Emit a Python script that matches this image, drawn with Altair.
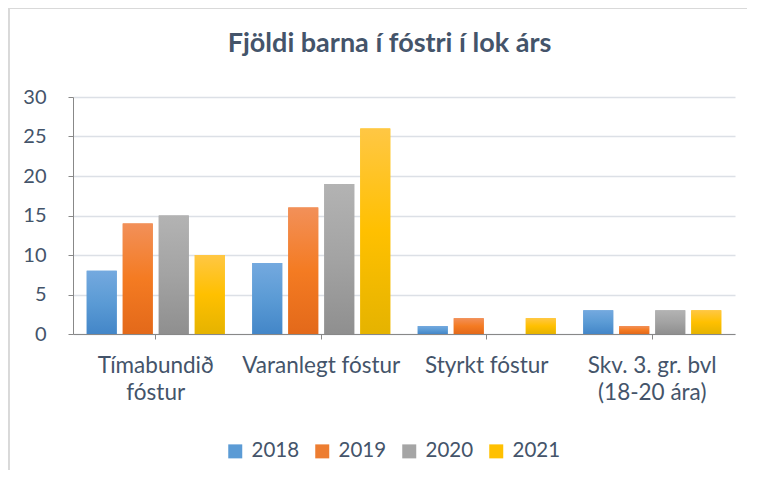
import altair as alt
import pandas as pd

categories = ["Tímabundið fóstur", "Varanlegt fóstur", "Styrkt fóstur", "Skv. 3. gr. bvl (18-20 ára)"]
label_lines = {
    "Tímabundið fóstur": ["Tímabundið", "fóstur"],
    "Varanlegt fóstur": ["Varanlegt fóstur"],
    "Styrkt fóstur": ["Styrkt fóstur"],
    "Skv. 3. gr. bvl (18-20 ára)": ["Skv. 3. gr. bvl", "(18-20 ára)"],
}
years = ["2018", "2019", "2020", "2021"]
v2018 = [8, 9, 1, 3]
v2019 = [14, 16, 2, 1]
v2020 = [15, 19, 0, 3]
v2021 = [10, 26, 2, 3]
series = {"2018": v2018, "2019": v2019, "2020": v2020, "2021": v2021}

solid = ["#5B9BD5", "#ED7D31", "#A5A5A5", "#FFC000"]
grad_stops = {
    "2018": ["#74A9DF", "#5B9BD5", "#4386C8"],
    "2019": ["#F29059", "#F47B22", "#E3691A"],
    "2020": ["#B3B3B3", "#A3A3A3", "#8F8F8F"],
    "2021": ["#FFC744", "#FFC000", "#E5B300"],
}

rows = []
for y in years:
    for c, v in zip(categories, series[y]):
        rows.append({"cat": c, "year": y, "value": v})
df = pd.DataFrame(rows)

FONT = "Lato"
TXT = "#44546A"

expr_parts = []
for c, lines in label_lines.items():
    arr = "[" + ",".join("'" + s + "'" for s in lines) + "]"
    expr_parts.append(f"datum.value == '{c}' ? {arr}")
label_expr = " : ".join(expr_parts) + " : datum.label"

base = alt.Chart(df).encode(
    x=alt.X(
        "cat:N",
        sort=categories,
        scale=alt.Scale(domain=categories, paddingInner=0.166, paddingOuter=0.083),
        axis=alt.Axis(
            title=None, labelAngle=0, labelExpr=label_expr, labelFontSize=22.5,
            labelPadding=15, labelLineHeight=27, labelLimit=400, grid=False,
            labelColor=TXT, labelFont=FONT,
        ),
    ),
    xOffset=alt.XOffset("year:N", scale=alt.Scale(domain=years, paddingInner=0.167, paddingOuter=0)),
    y=alt.Y(
        "value:Q",
        scale=alt.Scale(domain=[0, 30]),
        axis=alt.Axis(
            title=None, values=[0, 5, 10, 15, 20, 25, 30], labelFontSize=20,
            labelPadding=22, labelColor=TXT, labelFont=FONT,
            gridColor="#DCE0E6", gridWidth=1.5,
        ),
    ),
)

legend_layer = base.mark_bar().encode(
    color=alt.Color(
        "year:N",
        scale=alt.Scale(domain=years, range=solid),
        legend=alt.Legend(
            title=None, orient="none", direction="horizontal", legendX=152, legendY=344,
            symbolType="square", symbolSize=196, symbolStrokeWidth=0,
            labelFontSize=20.5, labelFont=FONT, labelColor=TXT, labelOffset=6,
            columnPadding=12, padding=0,
        ),
    )
)

layers = [legend_layer]
for y in years:
    s = grad_stops[y]
    g = alt.Gradient(
        gradient="linear",
        stops=[
            alt.GradientStop(color=s[0], offset=0),
            alt.GradientStop(color=s[1], offset=0.5),
            alt.GradientStop(color=s[2], offset=1),
        ],
        x1=0, x2=0, y1=0, y2=1,
    )
    layers.append(base.transform_filter(alt.datum.year == y).mark_bar(fill=g))

frame_top = alt.Chart(df).mark_rule(color="#D9D9D9", strokeWidth=2).encode(
    x=alt.value(-66), x2=alt.value(700), y=alt.value(-89)
)
frame_left = alt.Chart(df).mark_rule(color="#D9D9D9", strokeWidth=2).encode(
    x=alt.value(-64.5), y=alt.value(-89), y2=alt.value(400)
)

chart = alt.layer(*layers, frame_top, frame_left).properties(
    width=662,
    height=237,
    autosize=alt.AutoSizeParams(type="none"),
    padding={"left": 65, "top": 89, "right": 12, "bottom": 136},
    title=alt.Title(
        "Fjöldi barna í fóstri í lok árs", fontSize=27, fontWeight="bold", color=TXT,
        font=FONT, anchor="middle", dx=-14.5, offset=0, dy=72, baseline="alphabetic",
    ),
).configure_view(stroke=None)

chart.save("out.html", embed_options={"renderer": "svg", "actions": False})
